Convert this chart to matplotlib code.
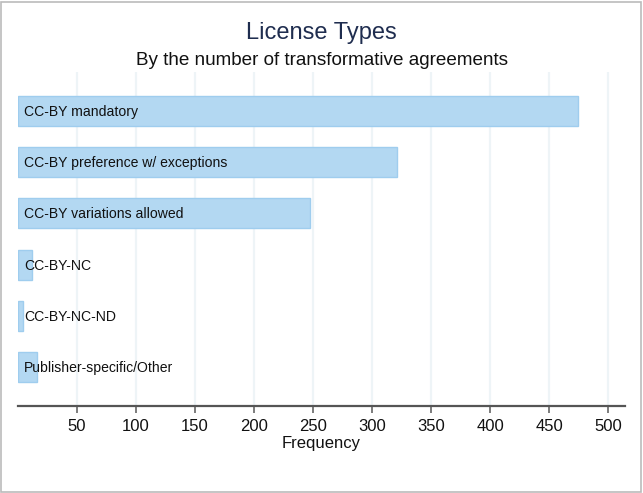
import matplotlib
matplotlib.use("Agg")
import matplotlib.pyplot as plt
from matplotlib.patches import Rectangle

categories = ["CC-BY mandatory", "CC-BY preference w/ exceptions", "CC-BY variations allowed",
              "CC-BY-NC", "CC-BY-NC-ND", "Publisher-specific/Other"]
values = [474, 321, 247, 12, 4, 16]
xticks = [50, 100, 150, 200, 250, 300, 350, 400, 450, 500]

plt.rcParams['font.family'] = ['Liberation Sans', 'DejaVu Sans']

W, H = 643, 493
fig = plt.figure(figsize=(W / 100, H / 100), dpi=100)
ax = fig.add_axes([17.5 / W, 1 - 406 / H, (625 - 17.5) / W, (406 - 72) / H])

ax.set_xlim(-0.4, 514)
ax.set_ylim(5.75, -0.75)

for x in xticks:
    ax.axvline(x, color="#eef4f7", lw=1.6, zorder=0)

ypos = list(range(len(categories)))
ax.barh(ypos, values, height=0.585, left=0, color="#b3d8f2", edgecolor="#9fcdee",
        linewidth=1.0, zorder=2)
for y, c in zip(ypos, categories):
    ax.text(5.3, y + 0.02, c, va="center", ha="left", fontsize=10.1, color="#111111", zorder=3)

for s in ["top", "right", "left"]:
    ax.spines[s].set_visible(False)
ax.spines["bottom"].set_color("#555555")
ax.spines["bottom"].set_linewidth(1.6)
ax.set_yticks([])
ax.set_xticks(xticks)
ax.set_xticklabels([str(t) for t in xticks])
ax.tick_params(axis="x", direction="out", length=5, width=1.2, color="#666666",
               labelsize=12, pad=4.2, labelcolor="#111111")
ax.set_xlabel("Frequency", fontsize=12, labelpad=1.8, color="#111111")

fig.text(321.5 / W, 1 - 32.5 / H, "License Types", ha="center", va="center",
         fontsize=17, color="#1f2d4f")
fig.text(321.5 / W, 1 - 60.5 / H, "By the number of transformative agreements", ha="center",
         va="center", fontsize=13.6, color="#111111")

fig.patches.append(Rectangle((0.5 / W, 1.5 / H), (W - 2.5) / W, (H - 3) / H,
                             transform=fig.transFigure, fill=False,
                             edgecolor="#bbbbbb", linewidth=1.2))

fig.savefig("out.png", dpi=100)
